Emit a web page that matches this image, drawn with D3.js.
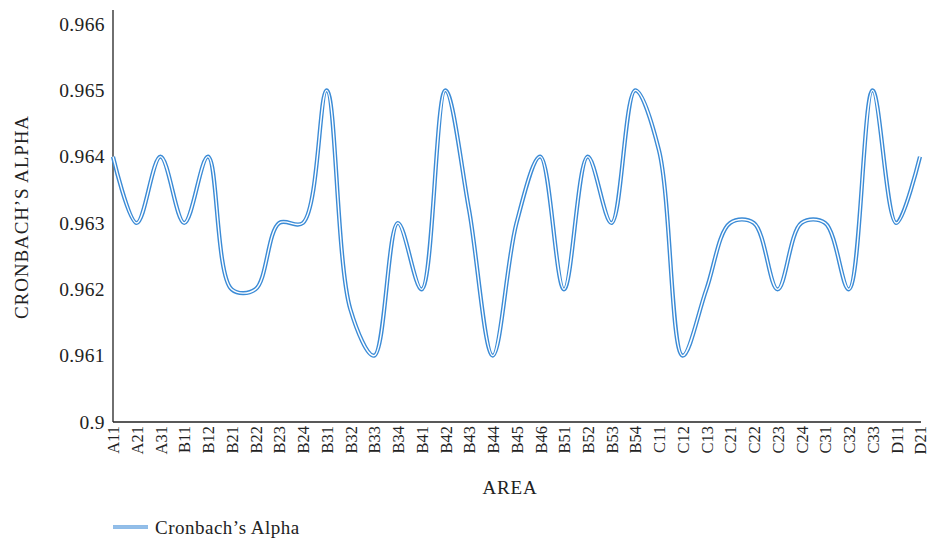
<!DOCTYPE html>
<html>
<head>
<meta charset="utf-8">
<script src="https://cdn.jsdelivr.net/npm/d3@7"></script>
<style>
  body { margin: 0; background: #fff; }
  svg { display: block; }
  text { font-family: "Liberation Serif", "DejaVu Serif", serif; fill: #222; }
</style>
</head>
<body>
<svg id="chart" width="931" height="540"></svg>
<script>
const categories = ["A11","A21","A31","B11","B12","B21","B22","B23","B24","B31","B32","B33","B34","B41","B42","B43","B44","B45","B46","B51","B52","B53","B54","C11","C12","C13","C21","C22","C23","C24","C31","C32","C33","D11","D21"];
const alphaValues = [0.964,0.963,0.964,0.963,0.964,0.962,0.962,0.963,0.963,0.965,0.9617,0.961,0.963,0.962,0.965,0.9632,0.961,0.963,0.964,0.962,0.964,0.963,0.965,0.9641,0.961,0.962,0.963,0.963,0.962,0.963,0.963,0.962,0.965,0.963,0.964];
const yTickValues = [0.960,0.961,0.962,0.963,0.964,0.965,0.966];
const yTickLabels = ["0.9","0.961","0.962","0.963","0.964","0.965","0.966"];
const seriesName = "Cronbach\u2019s Alpha";

const svg = d3.select("#chart");
const mLeft = 113, mRight = 920, mTop = 24, mBottom = 422;
const serif = "'Liberation Serif', serif";

const x = d3.scalePoint().domain(categories).range([mLeft, mRight]);
const y = d3.scaleLinear().domain([0.960, 0.966]).range([mBottom, mTop]);

// axes
const yAxis = d3.axisLeft(y).tickValues(yTickValues).tickSize(0).tickPadding(8)
  .tickFormat((d, i) => yTickLabels[i]);
const gy = svg.append("g").attr("transform", `translate(${mLeft},0)`).call(yAxis);
gy.select(".domain").remove();
gy.selectAll("text").style("font-size", "19.5px").style("font-family", serif)
  .style("letter-spacing", "0.4px").attr("fill", "#222");

svg.append("line").attr("x1", mLeft).attr("x2", mLeft).attr("y1", 10).attr("y2", mBottom)
  .attr("stroke", "#222").attr("stroke-width", 1.3);
svg.append("line").attr("x1", mLeft).attr("x2", 921).attr("y1", mBottom).attr("y2", mBottom)
  .attr("stroke", "#222").attr("stroke-width", 1.3);

const xAxis = d3.axisBottom(x).tickSize(0).tickPadding(0);
const gx = svg.append("g").attr("transform", `translate(0,${mBottom})`).call(xAxis);
gx.select(".domain").remove();
gx.selectAll("text")
  .style("font-size", "16.5px")
  .style("font-family", serif)
  .attr("text-anchor", "end")
  .attr("dy", "0.35em")
  .attr("transform", "rotate(-90)")
  .attr("x", -4)
  .attr("y", 0)
  .attr("fill", "#222");

// axis titles
svg.append("text").attr("x", 510).attr("y", 494).attr("text-anchor", "middle")
  .style("font-size", "19px").style("letter-spacing", "0.8px").text("AREA");
svg.append("text").attr("transform", "translate(28,217) rotate(-90)").attr("text-anchor", "middle")
  .style("font-size", "19px").style("letter-spacing", "0.9px").text("CRONBACH\u2019S ALPHA");

// line (double compound style)
const line = d3.line().x((d, i) => x(categories[i])).y(d => y(d)).curve(d3.curveCatmullRom.alpha(0.5));
svg.append("path").datum(alphaValues).attr("d", line)
  .attr("fill", "none").attr("stroke", "#3b8bd6").attr("stroke-width", 4.2).attr("stroke-linejoin", "round");
svg.append("path").datum(alphaValues).attr("d", line)
  .attr("fill", "none").attr("stroke", "#fff").attr("stroke-width", 1.4).attr("stroke-linejoin", "round");

// legend
svg.append("line").attr("x1", 113).attr("x2", 148).attr("y1", 527).attr("y2", 527)
  .attr("stroke", "#6aa6e0").attr("stroke-width", 3.5);
svg.append("line").attr("x1", 113).attr("x2", 148).attr("y1", 527).attr("y2", 527)
  .attr("stroke", "#bcd6f0").attr("stroke-width", 1);
svg.append("text").attr("x", 155).attr("y", 527).attr("dominant-baseline", "central")
  .style("font-size", "19px").style("letter-spacing", "0.5px").text(seriesName);
</script>
</body>
</html>
